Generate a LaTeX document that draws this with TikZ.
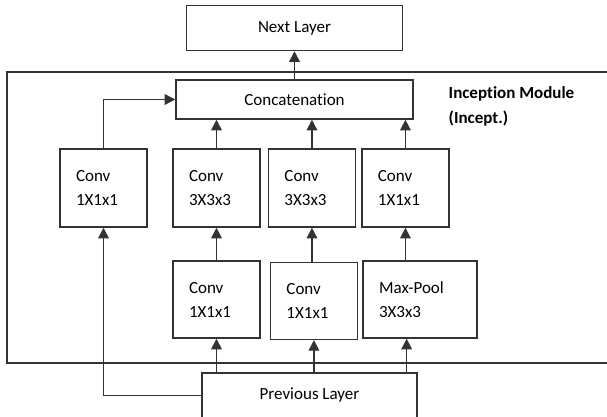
\documentclass[tikz,border=0pt]{standalone}
\usepackage{fontspec}
\setmainfont{Carlito}[Ligatures=NoCommon]
\usetikzlibrary{arrows.meta, positioning}

\begin{document}
\begin{tikzpicture}[
  x=0.75pt, y=-0.75pt,
  layer/.style={rectangle, draw=black!80, line width=1.1pt, fill=white,
                minimum width=162pt, minimum height=33.75pt, align=center,
                font=\fontsize{12.75}{18}\selectfont},
  conv/.style={rectangle, draw=black!80, line width=1.1pt, fill=white,
               text width=41.25pt, inner xsep=12pt, minimum height=58.5pt,
               align=left, font=\fontsize{12.75}{18}\selectfont},
  flow/.style={draw=black!80, line width=1.1pt, -{Triangle[length=8pt, width=8pt]}},
  frame/.style={draw=black!80, line width=1.1pt}
]
  \useasboundingbox (0,0) rectangle (607,417);

  % module frame
  \draw[frame] (7,72) rectangle (612,363);

  \node[layer, minimum width=177.75pt, minimum height=29.25pt] (concat) at (294.5,99.5) {Concatenation};
  \node[layer, above=21pt of concat] (next) {Next Layer};

  % first row of convolutions
  \node[conv] (c1) at (103.5,188) {Conv\\1X1x1};
  \node[conv] (c3a) at (216.5,188) {Conv\\3X3x3};
  \node[conv, right=5.25pt of c3a] (c3b) {Conv\\3X3x3};
  \node[conv, right=3.75pt of c3b] (c1b) {Conv\\1X1x1};

  % second row
  \node[conv, minimum height=57.75pt] (r1) at (216.5,299.5) {Conv\\1X1x1};
  \node[conv, minimum height=57.75pt, right=6.75pt of r1, yshift=-1pt] (r2) {Conv\\1X1x1};
  \node[conv, minimum height=57.75pt, text width=61.5pt] (pool) at (420,299.5) {Max-Pool\\3X3x3};

  \node[layer, minimum width=161.25pt] (prev) at (309.5,395.5) {Previous Layer};

  \node[anchor=west, align=left, font=\fontsize{12.75}{18.75}\selectfont\bfseries]
    (lbl) at (444,106.5) {Inception Module\\(Incept.)};

  \draw[flow] (concat) -- (next);
  \draw[flow] (c1.north) |- (concat.west);
  \draw[flow] (c3a.north) -- (c3a.north |- concat.south);
  \draw[flow] (c3b.north) -- (c3b.north |- concat.south);
  \draw[flow] (c1b.north) -- (c1b.north |- concat.south);

  \draw[flow] (r1.north) -- (c3a.south);
  \draw[flow] (c3b.south |- r2.north) -- (c3b.south);
  \draw[flow] (c1b.south |- pool.north) -- (c1b.south);

  \draw[flow] (prev.north -| r1.south) -- (r1.south);
  \draw[flow] (prev.north -| r2.south) -- (r2.south);
  \draw[flow] ([xshift=-10pt]prev.north -| pool.south) -- ([xshift=-10pt]pool.south);
  \draw[flow] (prev.west) -| (c1.south);
\end{tikzpicture}
\end{document}
